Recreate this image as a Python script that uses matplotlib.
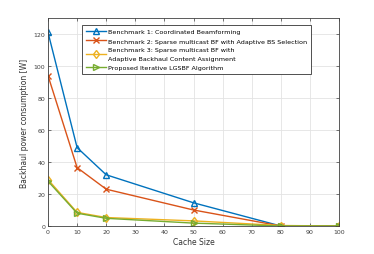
import numpy as np
import matplotlib.pyplot as plt

# data
cache = [0, 10, 20, 50, 80, 100]
bench1 = [121, 49, 32, 14.5, 0, 0]
bench2 = [94, 36.5, 23, 10, 0, 0]
bench3 = [29, 8.5, 5.3, 3.2, 0.3, 0]
proposed = [28, 8, 4.8, 1.8, 0, 0]
labels = ["Benchmark 1: Coordinated Beamforming",
          "Benchmark 2: Sparse multicast BF with Adaptive BS Selection",
          "Benchmark 3: Sparse multicast BF with\nAdaptive Backhaul Content Assignment",
          "Proposed Iterative LGSBF Algorithm"]

fig = plt.figure(figsize=(3.74, 2.55), dpi=100)
ax = fig.add_axes([48/374, 1-227/255, 291/374, 208/255])

ax.plot(cache, bench1, color='#0072BD', marker='^', mfc='none', ms=5, lw=1, label=labels[0])
ax.plot(cache, bench2, color='#D95319', marker='x', ms=4.5, lw=1, label=labels[1])
ax.plot(cache, bench3, color='#EDB120', marker='d', mfc='none', ms=4.5, lw=1, label=labels[2])
ax.plot(cache, proposed, color='#77AC30', marker='>', mfc='none', ms=4.5, lw=1, label=labels[3])

ax.set_xlim(0, 100)
ax.set_ylim(0, 130)
ax.set_xticks(np.arange(0, 101, 10))
ax.set_yticks(np.arange(0, 121, 20))
ax.grid(True, color='#e3e3e3', lw=0.6)
ax.set_axisbelow(True)
ax.tick_params(direction='in', top=True, right=True, labelsize=4.5, colors='#404040',
               length=2.5, width=0.5, pad=2)
for s in ax.spines.values():
    s.set_linewidth(0.6)
    s.set_color('#404040')
ax.set_xlabel("Cache Size", fontsize=5.5, color='#333333', labelpad=2)
ax.set_ylabel("Backhaul power consumption [W]", fontsize=5.5, color='#333333', labelpad=3)

leg = ax.legend(loc='upper left', bbox_to_anchor=(34/291, 0.965), fontsize=4.6,
                fancybox=False, edgecolor='#333333', framealpha=1,
                handlelength=3.2, borderpad=0.55, labelspacing=0.6, handletextpad=0.3,
                borderaxespad=0)
leg.get_frame().set_linewidth(0.6)
for t in leg.get_texts():
    t.set_linespacing(1.9)

fig.savefig("out.png", dpi=100)
